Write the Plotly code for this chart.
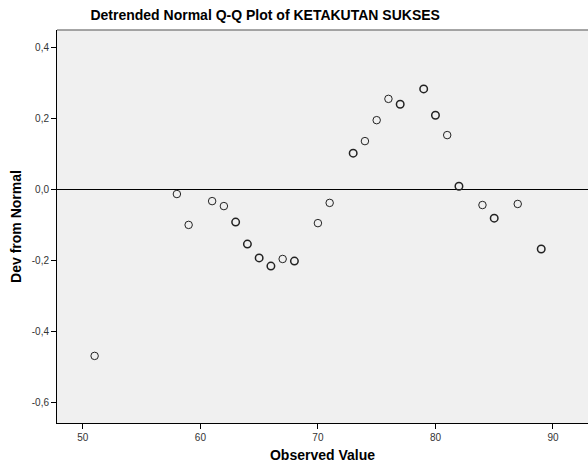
import plotly.graph_objects as go

observed = [51, 58, 59, 61, 62, 63, 64, 65, 66, 67, 68, 70, 71, 73, 74, 75, 76, 77, 79, 80, 81, 82, 84, 85, 87, 89]
dev = [-0.470, -0.014, -0.101, -0.034, -0.048, -0.093, -0.155, -0.194, -0.217, -0.197, -0.203,
       -0.096, -0.039, 0.101, 0.135, 0.194, 0.254, 0.239, 0.282, 0.208, 0.152, 0.008,
       -0.045, -0.082, -0.042, -0.169]
# heavier outline where SPSS drew overlapping duplicates
bold = [False, False, False, False, False, True, True, True, True, False, True,
        False, False, True, False, False, False, True, True, True, False, True,
        False, True, False, True]

xticks = [50, 60, 70, 80, 90]
yticks = [0.4, 0.2, 0.0, -0.2, -0.4, -0.6]
yticktext = ["0,4", "0,2", "0,0", "-0,2", "-0,4", "-0,6"]

fig = go.Figure()
fig.add_trace(go.Scatter(
    x=observed, y=dev, mode="markers",
    marker=dict(symbol="circle-open", size=7.5, color="#222",
                line=dict(width=[1.5 if b else 1.0 for b in bold], color="#222")),
    showlegend=False, hoverinfo="x+y",
))

fig.update_layout(
    width=588, height=468,
    margin=dict(l=57, r=0, t=30, b=45),
    paper_bgcolor="white", plot_bgcolor="#f0f0f0",
    font=dict(family="Liberation Sans, Arial, sans-serif", color="#222"),
    title=dict(text="<b>Detrended Normal Q-Q Plot of KETAKUTAN SUKSES</b>",
               x=0.451, xanchor="center", y=1 - 15 / 468, yanchor="middle",
               font=dict(size=14, color="black")),
    xaxis=dict(range=[47.8, 92.98], tickvals=xticks, ticks="outside", ticklen=5,
               tickcolor="black", showgrid=False, zeroline=False,
               showline=True, linecolor="black", linewidth=1,
               tickfont=dict(size=10, color="#333"),
               title=dict(text="<b>Observed Value</b>", font=dict(size=14, color="black"), standoff=8)),
    yaxis=dict(range=[-0.659, 0.448], tickvals=yticks, ticktext=yticktext, ticks="outside",
               ticklen=5, tickcolor="black", showgrid=False,
               zeroline=True, zerolinecolor="black", zerolinewidth=1,
               showline=True, linecolor="black", linewidth=1,
               tickfont=dict(size=10, color="#333"),
               title=dict(text="<b>Dev from Normal</b>", font=dict(size=14, color="black"), standoff=6)),
)
fig.add_shape(type="line", xref="paper", yref="paper", x0=0, x1=1, y0=1, y1=1,
              line=dict(color="#888888", width=1.5))

fig.write_html(
    "out.html",
    config={"displayModeBar": False},
    post_script="document.body.style.margin='0';document.body.style.overflow='hidden';",
)
